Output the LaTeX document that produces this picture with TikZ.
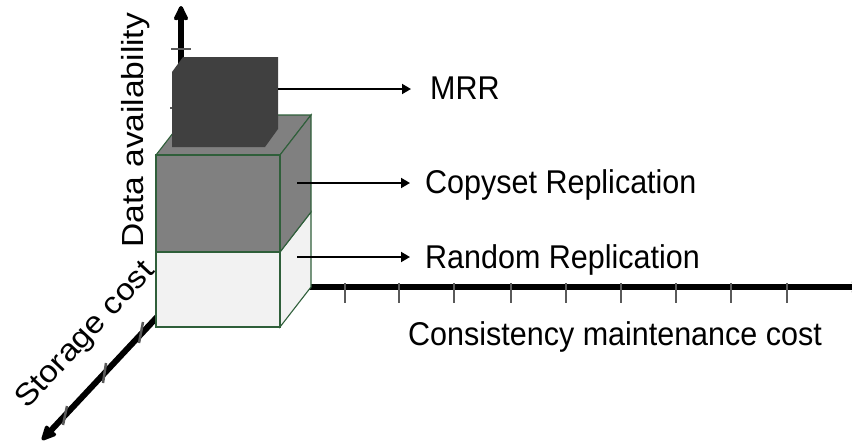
\documentclass[tikz,border=0pt]{standalone}
\usepackage{fontspec}
\usepackage{graphicx}
\setmainfont{Liberation Sans}
\usetikzlibrary{arrows.meta}

\definecolor{edgegreen}{HTML}{2F5F3A}
\definecolor{topblock}{HTML}{404040}
\definecolor{midblock}{HTML}{808080}
\definecolor{lowblock}{HTML}{F2F2F2}
\definecolor{tickgray}{HTML}{5A5A5A}

% horizontal labels are set slightly tall, axis labels slightly long
\newcommand{\talltext}[1]{\scalebox{1}[1.08]{#1}}
\newcommand{\longtext}[2]{\scalebox{#1}[1]{#2}}

\begin{document}
\begin{tikzpicture}[x=1pt,y=-1pt,
  axisline/.style={line width=6pt,
    -{Stealth[length=18pt,width=17pt,inset=3pt,round]}},
  tickmark/.style={line width=2.5pt, tickgray},
  face/.style={draw=edgegreen, line width=1.1pt, line join=miter},
  ptr/.style={line width=1.8pt, -{Triangle[length=9pt,width=10pt]}},
  lbl/.style={font=\fontsize{30.5}{36}\selectfont, inner sep=0pt},
]
\useasboundingbox (0,0) rectangle (852,442);
\clip (0,0) rectangle (852,442);

% ---- axes ----
\coordinate (origin) at (187,287);
\coordinate (vbase) at (181,287);
\coordinate (vtip) at (181,6);
\coordinate (htip) at (866,287);
\coordinate (dbase) at (187,285);
\coordinate (dtip) at (42,440);

\draw[axisline] (vbase) -- (vtip);
\draw[axisline] (origin) -- (htip);
\draw[axisline] (dbase) -- (dtip);

% tick marks
\draw[tickmark] (171,49) -- (191,49);
\draw[tickmark] (170,108) -- (191,108);
\foreach \tx in {345,399,454,511,566,621,676,731,787}
  \draw[tickmark] (\tx,283) -- (\tx,303);
\draw[tickmark] (143,322) -- (139,343);
\draw[tickmark] (106,363) -- (103,383);
\draw[tickmark] (67,406) -- (63,425);

% ---- stacked blocks ----
% lower block (random replication)
\fill[lowblock] (156,252) rectangle (280,327);
\draw[face, fill=lowblock] (280,252) -- (311,212) -- (311,287) -- (280,327) -- cycle;
\draw[face] (156,252) rectangle (280,327);
% middle block (copyset replication)
\draw[face, fill=midblock] (156,155) -- (187,115) -- (311,115) -- (280,155) -- cycle;
\draw[face, fill=midblock] (280,155) -- (311,115) -- (311,212) -- (280,252) -- cycle;
\draw[face, fill=midblock] (156,155) rectangle (280,252);
% top block (MRR)
\fill[topblock] (172,72) -- (183,57) -- (278,57) -- (278,129) -- (265,147) -- (172,147) -- cycle;

% ---- labels ----
\node[lbl, anchor=base west] (mrr) at (430,99) {\talltext{MRR}};
\node[lbl, anchor=base west] (copyset) at (425,193) {\talltext{Copyset Replication}};
\node[lbl, anchor=base west] (random) at (425,268) {\talltext{Random Replication}};
\node[lbl, anchor=base west] (consist) at (408,345) {\talltext{Consistency maintenance cost}};
\node[lbl, anchor=base west, rotate=90] (avail) at (143,248) {\longtext{1.1}{Data availability}};
\node[lbl, anchor=base west, rotate=47] (storage) at (27,410) {\longtext{1.1}{Storage cost}};

% ---- pointers from blocks to labels ----
\coordinate (srcmrr) at (278,89);
\coordinate (srccopy) at (297,183);
\coordinate (srcrand) at (297,257);
\draw[ptr, shorten >=19pt] (srcmrr) -- (srcmrr -| mrr.west);
\draw[ptr, shorten >=15pt] (srccopy) -- (srccopy -| copyset.west);
\draw[ptr, shorten >=15pt] (srcrand) -- (srcrand -| random.west);
\end{tikzpicture}
\end{document}
